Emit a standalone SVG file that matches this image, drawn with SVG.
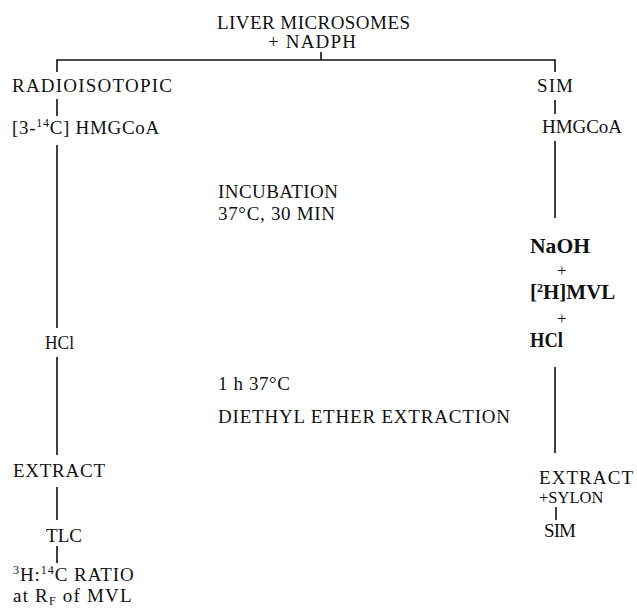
<svg xmlns="http://www.w3.org/2000/svg" width="637" height="608" viewBox="0 0 637 608">
<style>
text{font-family:"Liberation Serif","DejaVu Serif",serif;font-size:19px;fill:#111}
.b{font-weight:bold;font-size:21px}
.p{font-size:17px}
.s{font-size:12px}
line{stroke:#111;stroke-width:1.6}
</style>
<rect width="637" height="608" fill="#fff"/>
<g id="connectors">
<line x1="57" y1="60" x2="555" y2="60"/>
<line x1="321" y1="52" x2="321" y2="60"/>
<line x1="57" y1="59.2" x2="57" y2="72"/>
<line x1="555" y1="59.2" x2="555" y2="72"/>
<line x1="57" y1="99" x2="57" y2="116"/>
<line x1="555" y1="100" x2="555" y2="114"/>
<line x1="57" y1="145" x2="57" y2="328"/>
<line x1="555" y1="141" x2="555" y2="218"/>
<line x1="57" y1="357" x2="57" y2="455"/>
<line x1="555" y1="367" x2="555" y2="453"/>
<line x1="57" y1="487" x2="57" y2="520"/>
<line x1="556" y1="507" x2="556" y2="520"/>
<line x1="57" y1="546" x2="57" y2="563"/>
</g>
<g id="start">
<text x="217" y="29" textLength="193" lengthAdjust="spacing">LIVER MICROSOMES</text>
<text x="268" y="48" textLength="88" lengthAdjust="spacing">+ NADPH</text>
</g>
<g id="radioisotopic"><text x="12" y="92" textLength="160" lengthAdjust="spacing">RADIOISOTOPIC</text></g>
<g id="sim-top"><text x="537" y="92" textLength="36" lengthAdjust="spacing">SIM</text></g>
<g id="hmgcoa-left"><text x="12" y="134" letter-spacing="0.7">[3-<tspan class="s" dy="-7">14</tspan><tspan dy="7">C] HMGCoA</tspan></text></g>
<g id="hmgcoa-right"><text x="542" y="133" textLength="80" lengthAdjust="spacing">HMGCoA</text></g>
<g id="incubation">
<text x="218" y="198" textLength="120" lengthAdjust="spacing">INCUBATION</text>
<text x="218" y="220" textLength="117" lengthAdjust="spacing">37°C, 30 MIN</text>
</g>
<g id="naoh">
<text class="b" x="530" y="253" textLength="60" lengthAdjust="spacingAndGlyphs">NaOH</text>
<text class="p" x="557" y="276">+</text>
<text class="b" x="530" y="299">[<tspan class="s" dy="-7">2</tspan><tspan dy="7">H]MVL</tspan></text>
<text class="p" x="557" y="324">+</text>
<text class="b" x="530" y="347" textLength="33" lengthAdjust="spacingAndGlyphs">HCl</text>
</g>
<g id="hcl-left"><text x="45" y="349" textLength="29" lengthAdjust="spacingAndGlyphs">HCl</text></g>
<g id="hour"><text x="218" y="390" textLength="72" lengthAdjust="spacing">1 h 37°C</text></g>
<g id="ether"><text x="218" y="423" textLength="292" lengthAdjust="spacing">DIETHYL ETHER EXTRACTION</text></g>
<g id="extract-left"><text x="13" y="477" textLength="92" lengthAdjust="spacing">EXTRACT</text></g>
<g id="extract-right">
<text x="539" y="484" textLength="94" lengthAdjust="spacing">EXTRACT</text>
<text x="539" y="503" style="font-size:16.5px">+SYLON</text>
</g>
<g id="sim-bottom"><text x="544" y="537" textLength="32" lengthAdjust="spacing">SIM</text></g>
<g id="tlc"><text x="46" y="542" textLength="36" lengthAdjust="spacing">TLC</text></g>
<g id="ratio">
<text x="13" y="581" letter-spacing="0.95"><tspan class="s" dy="-7">3</tspan><tspan dy="7">H:</tspan><tspan class="s" dy="-7">14</tspan><tspan dy="7">C RATIO</tspan></text>
<text x="13" y="602" letter-spacing="1.2">at R<tspan class="s" dy="3">F</tspan><tspan dy="-3"> of MVL</tspan></text>
</g>
</svg>
